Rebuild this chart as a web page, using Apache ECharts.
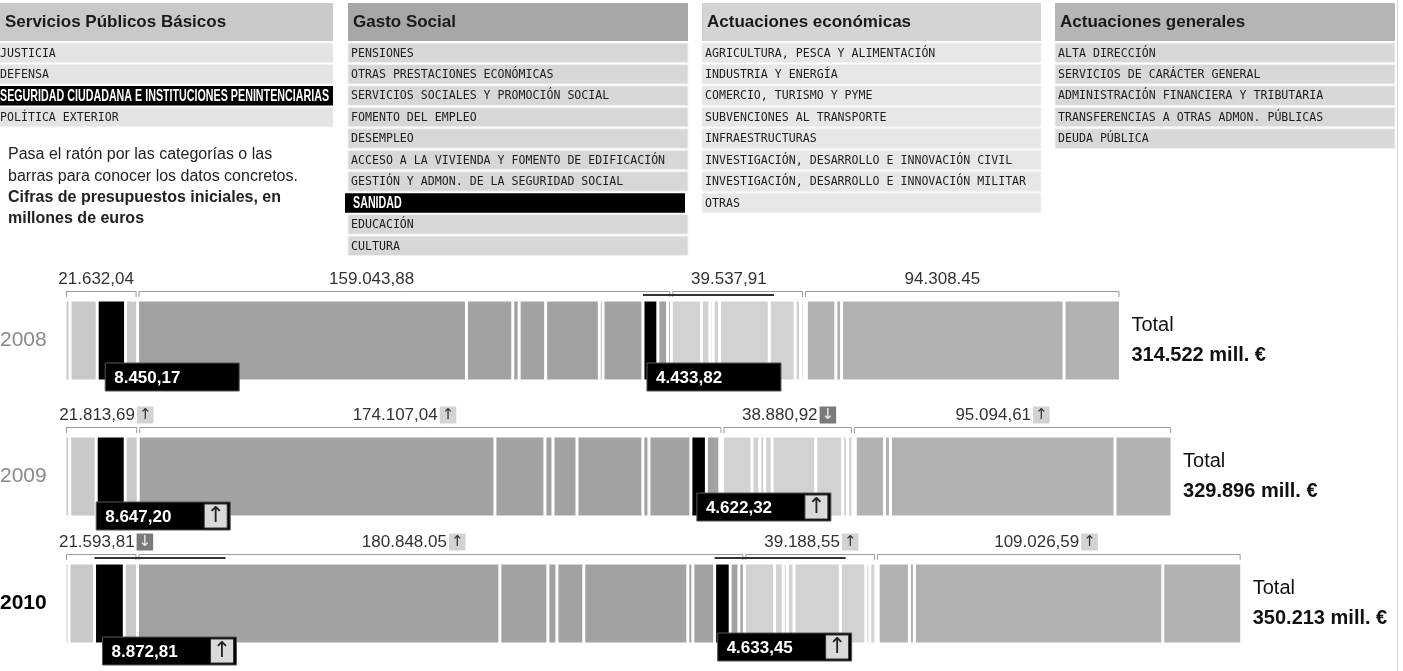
<!DOCTYPE html>
<html><head><meta charset="utf-8">
<script src="https://cdn.jsdelivr.net/npm/echarts@6/dist/echarts.min.js"></script>
<style>html,body{margin:0;padding:0;background:#fff}#c{width:1403px;height:671px}</style>
</head><body><div id="c"></div><script>
// ---------------- DATA ----------------
const years = ['2008', '2009', '2010'];
const groupNames = ['Servicios Públicos Básicos', 'Gasto Social', 'Actuaciones económicas', 'Actuaciones generales'];
const itemsSPB = ['JUSTICIA', 'DEFENSA', 'SEGURIDAD CIUDADANA E INSTITUCIONES PENINTENCIARIAS', 'POLÍTICA EXTERIOR'];
const itemsGS = ['PENSIONES', 'OTRAS PRESTACIONES ECONÓMICAS', 'SERVICIOS SOCIALES Y PROMOCIÓN SOCIAL', 'FOMENTO DEL EMPLEO',
  'DESEMPLEO', 'ACCESO A LA VIVIENDA Y FOMENTO DE EDIFICACIÓN', 'GESTIÓN Y ADMON. DE LA SEGURIDAD SOCIAL', 'SANIDAD', 'EDUCACIÓN', 'CULTURA'];
const itemsAE = ['AGRICULTURA, PESCA Y ALIMENTACIÓN', 'INDUSTRIA Y ENERGÍA', 'COMERCIO, TURISMO Y PYME', 'SUBVENCIONES AL TRANSPORTE',
  'INFRAESTRUCTURAS', 'INVESTIGACIÓN, DESARROLLO E INNOVACIÓN CIVIL', 'INVESTIGACIÓN, DESARROLLO E INNOVACIÓN MILITAR', 'OTRAS'];
const itemsAG = ['ALTA DIRECCIÓN', 'SERVICIOS DE CARÁCTER GENERAL', 'ADMINISTRACIÓN FINANCIERA Y TRIBUTARIA', 'TRANSFERENCIAS A OTRAS ADMON. PÚBLICAS', 'DEUDA PÚBLICA'];

// values in millions of euros, same order as the item lists
const spb2008 = [1500, 8100, 8450.17, 3581.87];
const gs2008 = [98000, 13800, 1900, 7900, 16000, 1100, 11900, 4433.82, 2900, 1110.06];
const ae2008 = [9000, 2500, 1000, 1900, 14800, 7700, 1600, 1037.91];
const ag2008 = [700, 8800, 1700, 66300, 16808.45];

const spb2009 = [1400, 7900, 8647.20, 3866.49];
const gs2009 = [106300, 14900, 2400, 7150, 19650, 1800, 12500, 4622.32, 4000, 784.72];
const ae2009 = [8800, 2300, 1500, 2200, 13000, 8000, 1500, 1580.92];
const ag2009 = [700, 8700, 1800, 66900, 16994.61];

const spb2010 = [1200, 7600, 8872.81, 3921];
const gs2010 = [108000, 14300, 2700, 8000, 31000, 1500, 6500, 4633.45, 2600, 1614.6];
const ae2010 = [9000, 2600, 1200, 2000, 13800, 7600, 1200, 1788.55];
const ag2010 = [700, 9300, 1500, 74000, 23526.59];

const groupLabels2008 = ['21.632,04', '159.043,88', '39.537,91', '94.308.45'];
const groupLabels2009 = ['21.813,69', '174.107,04', '38.880,92', '95.094,61'];
const groupLabels2010 = ['21.593,81', '180.848.05', '39.188,55', '109.026,59'];
const totalLabels = ['314.522', '329.896', '350.213'];
const highlightedItems = ['SEGURIDAD CIUDADANA E INSTITUCIONES PENINTENCIARIAS', 'SANIDAD'];

const introLines = ['Pasa el ratón por las categorías o las', 'barras para conocer los datos concretos.',
  'Cifras de presupuestos iniciales, en', 'millones de euros'];

// ---------------- LAYOUT / STYLE ----------------
const FONT = '"Liberation Sans", Arial, Helvetica, sans-serif';
const MONO = '"DejaVu Sans Mono", monospace';
const X_MAX = 390000;
const GRID_LEFT = 65;
const GRID_WIDTH = X_MAX / 298;
const gridTops = [300, 436, 563];
const gridHeights = [81, 81, 81];
const barColors = ['#c9c9c9', '#a2a2a2', '#d2d2d2', '#b2b2b2'];
const headerColors = ['#c9c9c9', '#a7a7a7', '#d4d4d4', '#b5b5b5'];
const rowColors = ['#e4e4e4', '#d7d7d7', '#e7e7e7', '#d8d8d8'];
const panelLeft = [-3, 348, 702, 1055];
const panelWidth = [336, 340, 339, 340];
const tipLayout = [
  [{dx: 8, dy: -18, line: false}, {dx: 4, dy: -18, line: true}],
  [{dx: 0, dy: -15, line: false}, {dx: 6, dy: -24, line: false}],
  [{dx: 8, dy: -7, line: true}, {dx: 3, dy: -11, line: true}]
];

const groupItems = [itemsSPB, itemsGS, itemsAE, itemsAG];
const yearValues = [
  [spb2008, gs2008, ae2008, ag2008],
  [spb2009, gs2009, ae2009, ag2009],
  [spb2010, gs2010, ae2010, ag2010]
];
const yearGroupLabels = [groupLabels2008, groupLabels2009, groupLabels2010];

const allItems = [].concat(...groupItems);
const groupOf = [];
groupItems.forEach((list, k) => list.forEach(() => groupOf.push(k)));
const flatVals = yearValues.map(gs => [].concat(...gs));
const groupSums = yearValues.map(gs => gs.map(a => a.reduce((s, v) => s + v, 0)));

function fmtES(v) {
  const parts = v.toFixed(2).split('.');
  const int = parts[0].replace(/\B(?=(\d{3})+(?!\d))/g, '.');
  return int + ',' + parts[1];
}

// ---------------- SERIES ----------------
const series = [];
years.forEach((yr, g) => {
  allItems.forEach((name, i) => {
    const isLast = i === allItems.length - 1;
    series.push({
      type: 'bar', name: name, xAxisIndex: g, yAxisIndex: g, stack: 's' + g,
      barWidth: '100%', silent: true, z: 2,
      data: [flatVals[g][i]],
      itemStyle: {
        color: highlightedItems.includes(name) ? '#000' : barColors[groupOf[i]],
        borderColor: '#fff', borderWidth: 1.5
      },
      label: isLast ? {
        show: true, position: 'right', distance: 11,
        formatter: '{a|Total}\n{b|' + totalLabels[g] + ' mill. €}',
        rich: {
          a: {fontSize: 20, fontFamily: FONT, color: '#111', lineHeight: 30},
          b: {fontSize: 20, fontFamily: FONT, fontWeight: 'bold', color: '#111', lineHeight: 30}
        }
      } : {show: false}
    });
  });

  // brackets with group totals
  let acc = 0;
  const bracketData = groupSums[g].map(s => { const d = [acc, acc + s, 0]; acc += s; return d; });
  series.push({
    type: 'custom', xAxisIndex: g, yAxisIndex: g, silent: true, clip: false, z: 10,
    encode: {x: [0, 1], y: 2},
    data: bracketData,
    renderItem: function (params, api) {
      const k = params.dataIndex;
      const p0 = api.coord([api.value(0), 0]);
      const p1 = api.coord([api.value(1), 0]);
      const bandH = api.size([0, 1])[1];
      const top = p0[1] - bandH / 2;
      const x0 = p0[0] + 1.5, x1 = p1[0] - 1.5;
      const yL = top - 8.5;
      let dir = 0;
      if (g > 0) dir = groupSums[g][k] > groupSums[g - 1][k] ? 1 : -1;
      const txt = '{v|' + yearGroupLabels[g][k] + '}' + (dir > 0 ? '{up|↑}' : dir < 0 ? '{dn|↓}' : '');
      return {
        type: 'group', children: [
          {type: 'polyline', shape: {points: [[x0, top - 3], [x0, yL], [x1, yL], [x1, top - 3]]},
            style: {stroke: '#9a9a9a', lineWidth: 1, fill: null}},
          {type: 'text', x: x0 + 0.44 * (x1 - x0) + (dir ? 9 : 0), y: top - 21,
            style: {
              text: txt, align: 'center', verticalAlign: 'middle',
              rich: {
                v: {fontSize: 17, fontFamily: FONT, fill: '#333', color: '#333', padding: [0, 2, 0, 0]},
                up: {fontSize: 15, fontFamily: '"DejaVu Sans", sans-serif', color: '#333', fill: '#333', backgroundColor: '#d3d3d3', padding: [1, 2, 1, 2]},
                dn: {fontSize: 15, fontFamily: '"DejaVu Sans", sans-serif', color: '#eee', fill: '#eee', backgroundColor: '#7a7a7a', padding: [1, 2, 1, 2]}
              }
            }}
        ]
      };
    }
  });

  // value boxes for highlighted items
  const hiIdx = highlightedItems.map(n => allItems.indexOf(n));
  const tipData = hiIdx.map(i => {
    let st = 0; for (let j = 0; j < i; j++) st += flatVals[g][j];
    return [st, flatVals[g][i], 0];
  });
  series.push({
    type: 'custom', xAxisIndex: g, yAxisIndex: g, silent: true, clip: false, z: 11,
    encode: {x: [0], y: 2},
    data: tipData,
    renderItem: function (params, api) {
      const j = params.dataIndex;
      const lay = tipLayout[g][j];
      const i = hiIdx[j];
      const p = api.coord([api.value(0), 0]);
      const bandH = api.size([0, 1])[1];
      const top = p[1] - bandH / 2, bottom = p[1] + bandH / 2;
      const bx = p[0] + lay.dx, by = bottom + lay.dy, bw = 134, bh = 28;
      const children = [];
      if (lay.line) children.push({type: 'line', shape: {x1: p[0], y1: top - 5, x2: p[0] + 131, y2: top - 5}, style: {stroke: '#333', lineWidth: 2}});
      children.push({type: 'rect', shape: {x: bx, y: by, width: bw, height: bh}, style: {fill: '#000', stroke: '#555', lineWidth: 1}});
      children.push({type: 'text', x: bx + 9, y: by + bh / 2 + 1, style: {text: fmtES(api.value(1)), fill: '#fff', font: 'bold 17px ' + FONT, verticalAlign: 'middle'}});
      if (g > 0 && flatVals[g][i] > flatVals[g - 1][i]) {
        children.push({type: 'rect', shape: {x: bx + bw - 26, y: by + 2, width: 23, height: bh - 4}, style: {fill: '#dadada', stroke: '#333', lineWidth: 1}});
        children.push({type: 'text', x: bx + bw - 14.5, y: by + bh / 2, style: {text: '↑', fill: '#222', font: '22px "DejaVu Sans", sans-serif', align: 'center', verticalAlign: 'middle'}});
      }
      return {type: 'group', children: children};
    }
  });
});

// ---------------- GRAPHIC (category panels & intro) ----------------
const graphic = [];
graphic.push({type: 'line', shape: {x1: 1397.5, y1: 0, x2: 1397.5, y2: 671}, style: {stroke: '#d6d6d6', lineWidth: 1}});
groupNames.forEach((gname, k) => {
  const L = panelLeft[k], W = panelWidth[k];
  graphic.push({type: 'rect', shape: {x: L, y: 3, width: W, height: 38}, style: {fill: headerColors[k]}});
  graphic.push({type: 'text', x: L + 8 - (k === 0 ? 0 : 3), y: 22, style: {text: gname, font: 'bold 17px ' + FONT, fill: '#1a1a1a', verticalAlign: 'middle'}});
  groupItems[k].forEach((item, r) => {
    const y = 43 + r * 21.45;
    const hi = highlightedItems.includes(item);
    graphic.push({type: 'rect', shape: {x: hi && k > 0 ? L - 3 : L, y: y, width: W, height: 19.5},
      style: {fill: hi ? '#000' : rowColors[k], stroke: hi ? null : '#f2f2f2', lineWidth: 1}});
    if (hi) {
      graphic.push({type: 'text', x: L + (k === 0 ? 3 : 5), y: y + 10.5, scaleX: 0.63,
        style: {text: item, font: 'bold 17px ' + FONT, fill: '#fff', verticalAlign: 'middle'}});
    } else {
      graphic.push({type: 'text', x: L + 3, y: y + 10.5,
        style: {text: item, font: '11.6px ' + MONO, fill: '#1e1e1e', verticalAlign: 'middle'}});
    }
  });
});
introLines.forEach((t, n) => {
  graphic.push({type: 'text', x: 8, y: 155 + n * 21.3,
    style: {text: t, font: (n >= 2 ? 'bold ' : '') + '16px ' + FONT, fill: '#222', verticalAlign: 'middle'}});
});

// ---------------- OPTION ----------------
const option = {
  animation: false,
  backgroundColor: '#fff',
  grid: years.map((y, g) => ({left: GRID_LEFT, top: gridTops[g], width: GRID_WIDTH, height: gridHeights[g],
    containLabel: false, outerBoundsMode: 'none'})),
  xAxis: years.map((y, g) => ({type: 'value', gridIndex: g, min: 0, max: X_MAX, show: false})),
  yAxis: years.map((y, g) => ({
    type: 'category', gridIndex: g, data: [y],
    axisLine: {show: false}, axisTick: {show: false}, splitLine: {show: false},
    axisLabel: {align: 'left', margin: 65, fontSize: 21, fontFamily: FONT,
      color: g === 2 ? '#000' : '#8a8a8a', fontWeight: g === 2 ? 'bold' : 'normal'}
  })),
  series: series,
  graphic: graphic
};
const chart = echarts.init(document.getElementById('c'));
chart.setOption(option);
</script></body></html>
